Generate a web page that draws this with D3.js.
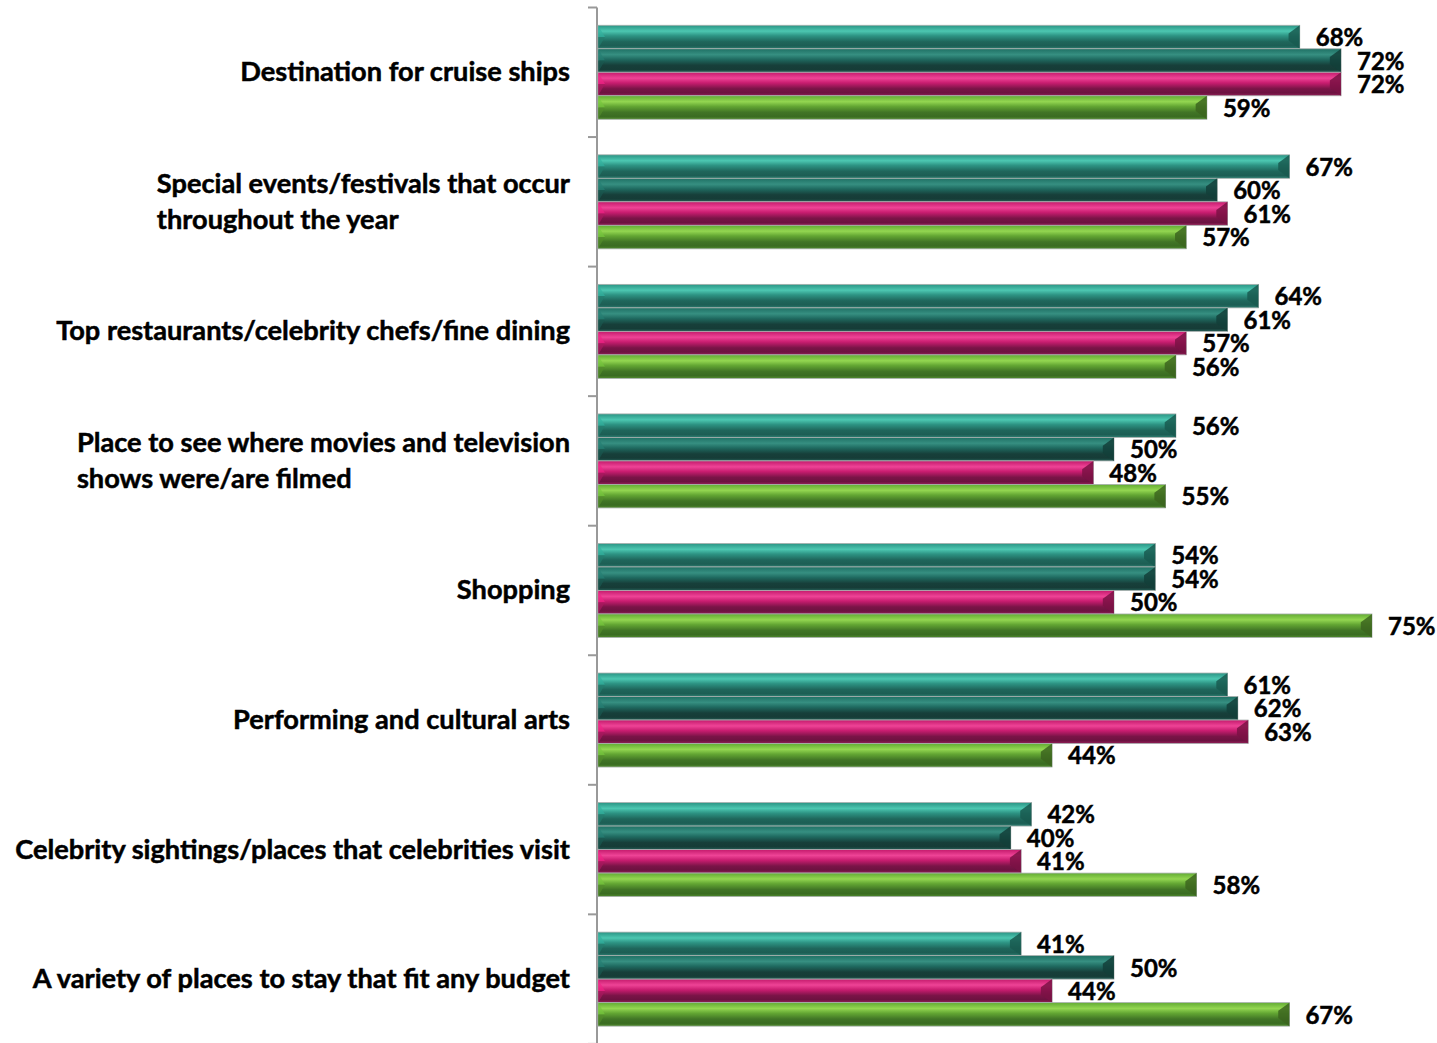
<!DOCTYPE html>
<html>
<head>
<meta charset="utf-8">
<script src="https://cdn.jsdelivr.net/npm/d3@7"></script>
<style>
  html, body { margin: 0; padding: 0; background: #fff; }
  svg { display: block; }
</style>
</head>
<body>
<svg id="chart" width="1437" height="1043"></svg>
<script>
const categories = [
  ["Destination for cruise ships"],
  ["Special events/festivals that occur", "throughout the year"],
  ["Top restaurants/celebrity chefs/fine dining"],
  ["Place to see where movies and television", "shows were/are filmed"],
  ["Shopping"],
  ["Performing and cultural arts"],
  ["Celebrity sightings/places that celebrities visit"],
  ["A variety of places to stay that fit any budget"]
];
const seriesNames = ["s1", "s2", "s3", "s4"];
const series1 = [68, 67, 64, 56, 54, 61, 42, 41];
const series2 = [72, 60, 61, 50, 54, 62, 40, 50];
const series3 = [72, 61, 57, 48, 50, 63, 41, 44];
const series4 = [59, 57, 56, 55, 75, 44, 58, 67];
const seriesColors = ["#2a9484", "#1f6a60", "#c91d70", "#63a633"];
const seriesGradients = [
  ["#2a9484", "#4cc7b1", "#2d9383", "#1f665b", "#1c5e54", "#2e7f72"],
  ["#1f7064", "#368f81", "#1f6a60", "#173f3a", "#163c37", "#245d55"],
  ["#c41a6c", "#ee4396", "#c91d70", "#7a1447", "#6c1240", "#952058"],
  ["#62ab33", "#93d651", "#63a633", "#417526", "#3a6c22", "#4f8a2d"]
];

const allSeries = [series1, series2, series3, series4];
const gradOffsets = [0, 0.25, 0.45, 0.7, 0.88, 1];

const svg = d3.select("#chart");
const fontFamily = "Lato, 'Open Sans', sans-serif";

const x = d3.scaleLinear().domain([0, 100]).range([598, 1630]);
const y0 = d3.scaleBand().domain(d3.range(categories.length)).range([7.5, 7.5 + 129.55 * 8]).padding(0);
const y1 = d3.scaleBand().domain(seriesNames).range([0, y0.bandwidth()]).paddingInner(0).paddingOuter(0.756);

// gradients
const defs = svg.append("defs");
seriesGradients.forEach((cols, i) => {
  const g = defs.append("linearGradient").attr("id", "grad" + i)
    .attr("x1", 0).attr("y1", 0).attr("x2", 0).attr("y2", 1);
  cols.forEach((c, k) => g.append("stop").attr("offset", gradOffsets[k]).attr("stop-color", c));
});

// axis
const axis = d3.axisLeft(y0).tickValues([]).tickSize(0);
const axisG = svg.append("g").attr("transform", "translate(597,0)").call(axis);
axisG.select(".domain").attr("stroke", "#999").attr("stroke-width", 2).attr("d", `M0,${y0.range()[0]}V${y0.range()[1]}`);
const boundaries = d3.range(categories.length + 1).map(i => y0.range()[0] + i * y0.step());
axisG.selectAll("line.tk").data(boundaries).join("line").attr("class", "tk")
  .attr("x1", -9).attr("x2", 0).attr("y1", d => d).attr("y2", d => d)
  .attr("stroke", "#999").attr("stroke-width", 2);

// bars
const groups = svg.append("g").selectAll("g").data(categories).join("g")
  .attr("transform", (d, i) => `translate(0,${y0(i)})`);

const bevel = 7;
groups.each(function(cat, ci) {
  const g = d3.select(this);
  allSeries.forEach((s, si) => {
    const v = s[ci];
    const bx = x(0), bw = x(v) - x(0);
    const by = y1(seriesNames[si]), bh = y1.bandwidth();
    const base = d3.color(seriesColors[si]);
    g.append("rect").attr("x", bx).attr("y", by).attr("width", bw).attr("height", bh)
      .attr("fill", `url(#grad${si})`).attr("stroke", "#a8b0ae").attr("stroke-width", 0.8);
    // left bevel
    g.append("polygon")
      .attr("points", [[bx, by], [bx + bevel, by + bh / 2], [bx, by + bh / 2]].map(p => p.join(",")).join(" "))
      .attr("fill", base.brighter(0.5).formatHex()).attr("opacity", 0.7);
    g.append("polygon")
      .attr("points", [[bx, by + bh / 2], [bx + bevel, by + bh / 2], [bx, by + bh]].map(p => p.join(",")).join(" "))
      .attr("fill", base.darker(0.5).formatHex()).attr("opacity", 0.7);
    // right bevel
    const ex = bx + bw;
    g.append("polygon")
      .attr("points", [[ex, by], [ex - bevel * 1.6, by + bh * 0.35], [ex - bevel * 1.6, by + bh * 0.65], [ex, by + bh]].map(p => p.join(",")).join(" "))
      .attr("fill", base.darker(1.4).formatHex()).attr("opacity", 0.85);
    // value label
    g.append("text").attr("x", ex + 16).attr("y", by + bh / 2 + 3)
      .attr("dominant-baseline", "middle")
      .attr("font-family", fontFamily).attr("font-weight", 700).attr("font-size", 24)
      .attr("stroke", "#000").attr("stroke-width", 0.5)
      .attr("fill", "#000").text(v + "%");
  });
});

// category labels
const labelG = svg.append("g");
const probe = labelG.append("text").attr("font-family", fontFamily).attr("font-weight", 700)
  .attr("font-size", 24).text("Destination for cruise ships");
const fs = 24 * 330 / probe.node().getComputedTextLength();
probe.remove();

categories.forEach((lines, i) => {
  const cy = y0(i) + y0.bandwidth() / 2 + 2;
  const t = labelG.append("text").attr("font-family", fontFamily).attr("font-weight", 700)
    .attr("font-size", fs).attr("fill", "#000").attr("stroke", "#000").attr("stroke-width", 0.5);
  const lh = 36;
  lines.forEach((ln, li) => {
    t.append("tspan").attr("y", cy + (li - (lines.length - 1) / 2) * lh).attr("dominant-baseline", "middle").text(ln);
  });
  const tspans = t.selectAll("tspan").nodes();
  const maxW = d3.max(tspans, n => n.getComputedTextLength());
  t.selectAll("tspan").attr("x", 570 - maxW);
});
</script>
</body>
</html>
